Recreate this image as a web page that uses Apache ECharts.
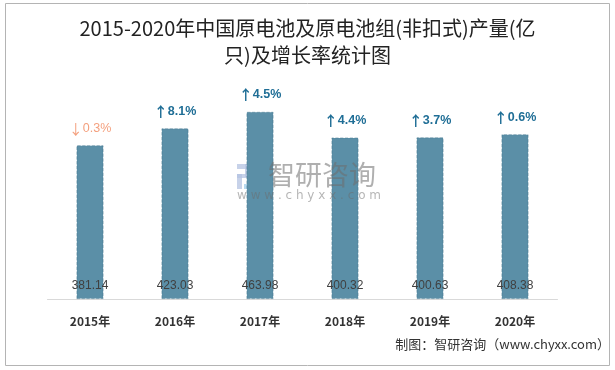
<!DOCTYPE html>
<html>
<head>
<meta charset="utf-8">
<script src="https://cdn.jsdelivr.net/npm/echarts@6/dist/echarts.min.js"></script>
<style>html,body{margin:0;padding:0;background:#fff;}#c{width:615px;height:370px;}</style>
</head>
<body>
<div id="c"></div>
<script>
const categories = ['2015年', '2016年', '2017年', '2018年', '2019年', '2020年'];
const production = [381.14, 423.03, 463.98, 400.32, 400.63, 408.38];
const growth = [-0.3, 8.1, 4.5, 4.4, 3.7, 0.6];
const titleText = '2015-2020年中国原电池及原电池组(非扣式)产量(亿\n只)及增长率统计图';
const sourceText = '制图：智研咨询（www.chyxx.com）';

const chart = echarts.init(document.getElementById('c'));
chart.setOption({
  animation: false,
  backgroundColor: '#fff',
  title: {
    text: titleText,
    left: 'center',
    top: 15,
    padding: 0,
    textStyle: {
      fontFamily: 'Noto Sans CJK SC',
      fontSize: 20,
      fontWeight: 'normal',
      color: '#222',
      lineHeight: 27,
      align: 'center'
    }
  },
  grid: { left: 47.5, right: 57.5, top: 57, bottom: 71, containLabel: false },
  xAxis: {
    type: 'category',
    data: categories,
    axisLine: { lineStyle: { color: '#d9d9d9', width: 1 } },
    axisTick: { show: false },
    axisLabel: { color: '#333', fontWeight: 'bold', fontSize: 12, margin: 16, fontFamily: 'Noto Sans CJK SC' }
  },
  yAxis: {
    type: 'value', min: 0, max: 600,
    show: false,
    splitLine: { show: false }
  },
  graphic: [
    { type: 'rect', shape: { x: 5.5, y: 3.5, width: 604, height: 362 }, style: { fill: 'none', stroke: '#b4b4b4', lineWidth: 1 }, silent: true, z: 100 },
    { type: 'text', right: 5, top: 338, style: { text: sourceText, fill: '#333', font: '13px "Noto Sans CJK SC"' }, z: 100 },
    { type: 'group', left: 237, top: 164, z: 50, silent: true, children: [
      { type: 'rect', shape: { x: 0, y: 0, width: 13, height: 5 }, style: { fill: 'rgba(180,195,225,0.75)' } },
      { type: 'rect', shape: { x: 8, y: 0, width: 5, height: 13 }, style: { fill: 'rgba(180,195,225,0.75)' } },
      { type: 'rect', shape: { x: 0, y: 10, width: 11, height: 4 }, style: { fill: 'rgba(180,195,225,0.75)' } },
      { type: 'rect', shape: { x: 0, y: 10, width: 5, height: 15 }, style: { fill: 'rgba(180,195,225,0.75)' } },
      { type: 'rect', shape: { x: 15, y: 0, width: 10, height: 5 }, style: { fill: 'rgba(160,205,235,0.75)' } },
      { type: 'rect', shape: { x: 20, y: 0, width: 5, height: 25 }, style: { fill: 'rgba(160,205,235,0.75)' } },
      { type: 'rect', shape: { x: 7, y: 20, width: 18, height: 5 }, style: { fill: 'rgba(160,205,235,0.75)' } }
    ] },
    { type: 'text', left: 268, top: 161, z: 50, silent: true, style: { text: '智研咨询', fill: 'rgba(110,110,110,0.55)', font: '27px "Noto Sans CJK SC"' } },
    { type: 'text', left: 237, top: 190, z: 50, silent: true, style: { text: 'w w w . c h y x x . c o m', fill: 'rgba(110,110,110,0.5)', font: '12px "DejaVu Sans"' } }
  ],
  series: [
    {
      type: 'bar',
      data: production,
      barWidth: 27,
      itemStyle: { color: '#5b8fa7', borderColor: 'rgba(60,110,135,0.55)', borderType: 'dashed', borderWidth: 0.8 },
      label: {
        show: true,
        position: 'insideBottom',
        distance: 7,
        color: '#404040',
        fontSize: 12,
        fontFamily: 'Liberation Sans',
        formatter: p => production[p.dataIndex].toFixed(2)
      },
      z: 2
    },
    {
      type: 'bar',
      data: production,
      barWidth: 27,
      barGap: '-100%',
      itemStyle: { color: 'rgba(0,0,0,0)' },
      label: {
        show: true,
        position: 'top',
        distance: 10,
        formatter: p => {
          const g = growth[p.dataIndex];
          return g < 0 ? '{da|↓}{dn|' + Math.abs(g).toFixed(1) + '%}' : '{ua|↑}{up|' + g.toFixed(1) + '%}';
        },
        rich: {
          ua: { color: '#1f6e96', fontWeight: 'bold', fontSize: 14, fontFamily: 'Noto Sans CJK SC' },
          up: { color: '#1f6e96', fontWeight: 'bold', fontSize: 12.5, fontFamily: 'Liberation Sans' },
          da: { color: '#f4a07e', fontWeight: 'normal', fontSize: 14, fontFamily: 'Noto Sans CJK SC' },
          dn: { color: '#f4a07e', fontWeight: 'normal', fontSize: 12.5, fontFamily: 'Liberation Sans' }
        }
      },
      z: 3
    }
  ]
});
</script>
</body>
</html>
